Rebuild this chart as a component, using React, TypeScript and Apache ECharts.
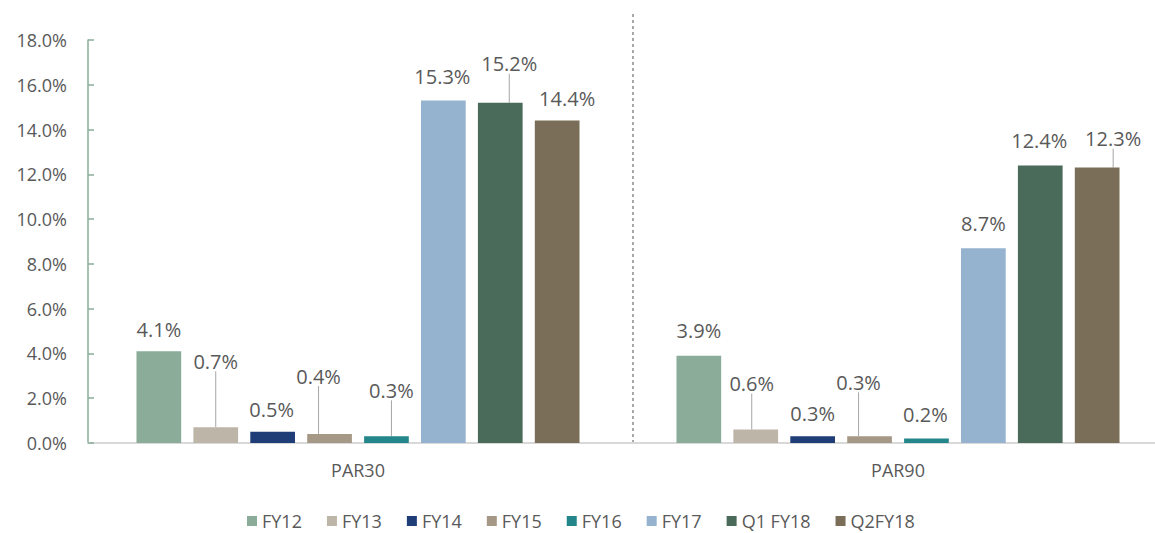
import React, { useEffect, useRef } from 'react';
import * as echarts from 'echarts';

const categories = ['PAR30', 'PAR90'];
const seriesNames = ['FY12', 'FY13', 'FY14', 'FY15', 'FY16', 'FY17', 'Q1 FY18', 'Q2FY18'];
const fy12 = [4.1, 3.9];
const fy13 = [0.7, 0.6];
const fy14 = [0.5, 0.3];
const fy15 = [0.4, 0.3];
const fy16 = [0.3, 0.2];
const fy17 = [15.3, 8.7];
const q1fy18 = [15.2, 12.4];
const q2fy18 = [14.4, 12.3];
const seriesValues = [fy12, fy13, fy14, fy15, fy16, fy17, q1fy18, q2fy18];

const yMin = 0;
const yMax = 18;
const yInterval = 2;

const colors = ['#8aac98', '#bdb5a7', '#1f3e78', '#a69886', '#23868a', '#95b3cf', '#4a6a5a', '#7a6e58'];

// label placement: [dx from bar centre, distance of label centre above bar top] per category
const labelOffsets = [
  [[0, 22], [0, 25]],
  [[0, 66], [-4, 46]],
  [[-1, 22], [0, 23]],
  [[-11, 58], [-11, 54]],
  [[5, 46], [-1, 24]],
  [[-1, 24], [0, 25]],
  [[9, 39], [-1, 25]],
  [[10, 22], [16, 29]],
];
const labelLines = [
  [false, false],
  [true, true],
  [false, false],
  [true, true],
  [true, false],
  [false, false],
  [true, false],
  [false, true],
];

const textColor = '#595959';
const font = 'Open Sans';

export default function App() {
  const ref = useRef<HTMLDivElement>(null);
  useEffect(() => {
    document.body.style.margin = '0';
    if (!ref.current) return;
    const chart = echarts.init(ref.current, undefined, { renderer: 'svg' });
    const series = seriesNames.map((name, s) => ({
      name,
      type: 'bar',
      barWidth: 44.7,
      barGap: '27.3%',
      itemStyle: { color: colors[s] },
      data: seriesValues[s].map((v, i) => ({
        value: v,
        labelLine: { show: labelLines[s][i], lineStyle: { color: '#a6a6a6', width: 1 } },
      })),
      label: {
        show: true,
        position: 'top',
        color: textColor,
        fontSize: 20,
        fontFamily: font,
        formatter: (p: any) => Number(p.value).toFixed(1) + '%',
      },
      labelLine: { show: false, length2: 0, lineStyle: { color: '#a6a6a6', width: 1 } },
      labelLayout: (p: any) => {
        const [dx, gap] = labelOffsets[s][p.dataIndex];
        return {
          x: p.rect.x + p.rect.width / 2 + dx,
          y: p.rect.y - gap,
          align: 'center',
          verticalAlign: 'middle',
        };
      },
    }));
    chart.setOption({
      animation: false,
      color: colors,
      grid: { left: 88, top: 40, width: 1080, height: 403, containLabel: false, outerBoundsMode: 'none' },
      legend: {
        data: seriesNames,
        left: 242,
        top: 507,
        padding: 5,
        icon: 'rect',
        itemWidth: 10,
        itemHeight: 10,
        itemGap: 25,
        textStyle: { color: textColor, fontSize: 18, fontFamily: font, lineHeight: 18 },
      },
      xAxis: {
        type: 'category',
        data: categories,
        axisLine: { lineStyle: { color: '#d9d9d9', width: 2 } },
        axisTick: { show: false },
        axisLabel: { color: textColor, fontSize: 18, fontFamily: font, margin: 18 },
        splitLine: { show: false },
      },
      yAxis: {
        type: 'value',
        min: yMin,
        max: yMax,
        interval: yInterval,
        axisLine: { show: true, lineStyle: { color: '#8aac98', width: 1.5 } },
        axisTick: { show: true, inside: true, length: 6, lineStyle: { color: '#8aac98', width: 1.5 } },
        axisLabel: {
          color: textColor,
          fontSize: 18,
          fontFamily: font,
          margin: 21,
          formatter: (v: number) => v.toFixed(1) + '%',
        },
        splitLine: { show: false },
      },
      graphic: [
        {
          type: 'line',
          shape: { x1: 633, y1: 14, x2: 633, y2: 443 },
          style: { stroke: '#8c8c8c', lineWidth: 1.5, lineDash: [3, 3] },
          z: 0,
        },
      ],
      series,
    });
    return () => chart.dispose();
  }, []);
  return <div ref={ref} style={{ width: 1155, height: 533 }} />;
}
